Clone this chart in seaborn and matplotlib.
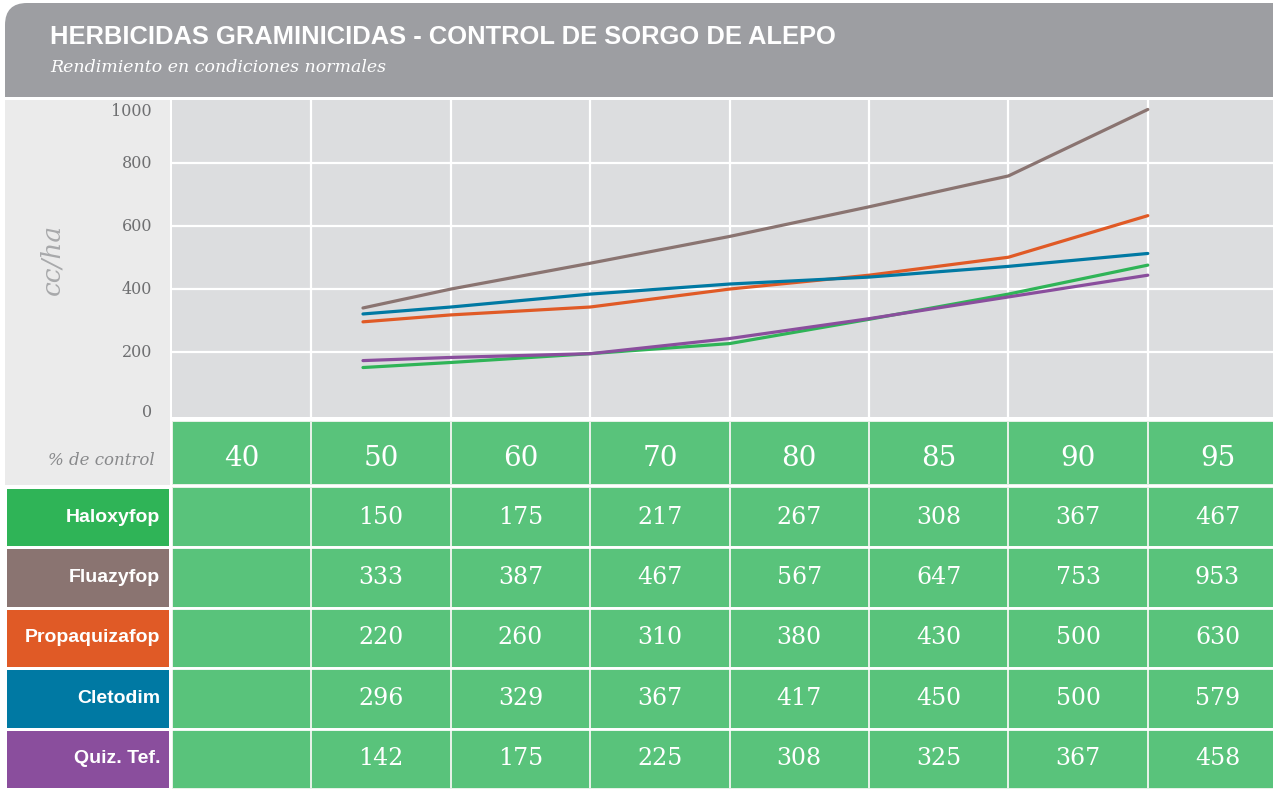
import numpy as np
import pandas as pd
import matplotlib.pyplot as plt
from matplotlib.colors import ListedColormap
from matplotlib.patches import FancyBboxPatch, Rectangle
import seaborn as sns

# %% data
titulo = "HERBICIDAS GRAMINICIDAS - CONTROL DE SORGO DE ALEPO"
subtitulo = "Rendimiento en condiciones normales"
control = ["40", "50", "60", "70", "80", "85", "90", "95"]
herbicidas = ["Haloxyfop", "Fluazyfop", "Propaquizafop", "Cletodim", "Quiz. Tef."]
colores = ["#2fb457", "#8a7471", "#e05a26", "#0079a3", "#8a4e9d"]

# table values (no value at 40 %)
haloxyfop = [np.nan, 150, 175, 217, 267, 308, 367, 467]
fluazyfop = [np.nan, 333, 387, 467, 567, 647, 753, 953]
propaquizafop = [np.nan, 220, 260, 310, 380, 430, 500, 630]
cletodim = [np.nan, 296, 329, 367, 417, 450, 500, 579]
quiztef = [np.nan, 142, 175, 225, 308, 325, 367, 458]

# curves as drawn, x in table-column units
curva_x = [1.37, 2, 3, 4, 5, 6, 7]
curva_haloxyfop = [151, 167, 195, 227, 304, 384, 476]
curva_fluazyfop = [340, 400, 482, 567, 661, 759, 970]
curva_propaquizafop = [296, 318, 343, 400, 444, 501, 633]
curva_cletodim = [321, 343, 384, 416, 438, 472, 513]
curva_quiztef = [173, 183, 195, 243, 306, 375, 444]

yticks = [0, 200, 400, 600, 800, 1000]

# %% colours / fonts
gris_header = "#9d9ea2"
gris_panel = "#ebebeb"
gris_plot = "#dcdddf"
verde = "#59c37b"
linea_tabla = "#e6f1e7"
serif = "DejaVu Serif"
sans = "Liberation Sans"

sns.set_style("white")
plt.rcParams['font.family'] = ['DejaVu Sans']

W, H = 1273, 789
fig = plt.figure(figsize=(W / 100, H / 100), dpi=100)
fig.patch.set_facecolor("white")


def axes_px(x0, y0, x1, y1, **kw):
    return fig.add_axes([x0 / W, 1 - y1 / H, (x1 - x0) / W, (y1 - y0) / H], **kw)


# %% background: left panel + labels
bg = axes_px(0, 0, W, H, zorder=0)
bg.set_xlim(0, W)
bg.set_ylim(H, 0)
bg.axis("off")
bg.add_patch(Rectangle((5, 100), 165, 385, color=gris_panel, lw=0))
bg.text(52, 259, "cc/ha", rotation=90, ha="center", va="center",
        family=serif, style="italic", fontsize=19, color="#a8a9ab")
bg.text(155, 460, "% de control", ha="right", va="center",
        family=serif, style="italic", fontsize=12, color="#88898b")

# %% header
hd = axes_px(0, 0, W, 97, zorder=1)
hd.set_xlim(0, W)
hd.set_ylim(97, 0)
hd.axis("off")
hd.add_patch(FancyBboxPatch((5, 3), 1400, 300, boxstyle="round,pad=0,rounding_size=22",
                            color=gris_header, lw=0))
hd.text(50, 37, titulo, ha="left", va="center", family=sans, weight="bold",
        fontsize=18.4, color="white")
hd.text(50, 68, subtitulo, ha="left", va="center", family=serif, style="italic",
        fontsize=12.5, color="white")

# %% line chart
ax = axes_px(172, 100, 172 + 8 * 139.4, 417, zorder=2)
ax.set_facecolor(gris_plot)
curvas = pd.DataFrame({
    "x": curva_x * len(herbicidas),
    "cc": curva_haloxyfop + curva_fluazyfop + curva_propaquizafop + curva_cletodim + curva_quiztef,
    "herbicida": np.repeat(herbicidas, len(curva_x)),
})
sns.lineplot(data=curvas, x="x", y="cc", hue="herbicida", hue_order=herbicidas,
             palette=colores, estimator=None, sort=False, lw=2.3, legend=False, ax=ax)
ax.set_xlim(0, 8)
ax.set_ylim(-6, 1000)
ax.set_xticks(range(1, 8))
ax.set_yticks(yticks[1:-1])
ax.grid(True, color="white", lw=1.6)
ax.set_xticklabels([])
ax.set_yticklabels([])
ax.tick_params(length=0)
ax.set_xlabel("")
ax.set_ylabel("")
for s in ax.spines.values():
    s.set_visible(False)
# y labels sit in the left panel; top one is pulled inside the panel
for v in yticks:
    dy = -12 if v == yticks[-1] else (3 if v == 0 else 0)
    ax.annotate(str(v), xy=(0, v), xycoords=ax.get_yaxis_transform(),
                xytext=(-20, dy), textcoords="offset pixels", ha="right", va="center",
                family=serif, fontsize=11.5, color="#6e6f71", annotation_clip=False)

# %% table: header row
th = axes_px(172, 421, 172 + 8 * 139.4, 485, zorder=2)
sns.heatmap(np.ones((1, 8)), cmap=ListedColormap([verde]), cbar=False,
            linewidths=1.4, linecolor=linea_tabla,
            xticklabels=False, yticklabels=False, ax=th)
for j, c in enumerate(control):
    th.text(j + 0.5, 0.58, c, ha="center", va="center", family=serif,
            fontsize=20, color="white")

# %% table: values
valores = np.array([haloxyfop, fluazyfop, propaquizafop, cletodim, quiztef])
textos = np.array([["" if np.isnan(v) else f"{v:.0f}" for v in fila] for fila in valores])
tb = axes_px(172, 487, 172 + 8 * 139.4, H, zorder=2)
tb.set_facecolor(verde)
sns.heatmap(np.where(np.isnan(valores), 0, 1), mask=np.isnan(valores),
            cmap=ListedColormap([verde]), vmin=0, vmax=1, cbar=False,
            annot=textos, fmt="", linewidths=1.4, linecolor=linea_tabla,
            annot_kws=dict(family=serif, fontsize=17, color="white"),
            xticklabels=False, yticklabels=False, ax=tb)
# white bands between the rows
for i in range(1, len(herbicidas)):
    tb.axhline(i, color="white", lw=2)

# %% row labels
rl = axes_px(5, 487, 170, H, zorder=2)
sns.heatmap(np.arange(len(herbicidas))[:, None], cmap=ListedColormap(colores),
            vmin=-0.5, vmax=len(herbicidas) - 0.5, cbar=False, linewidths=2,
            linecolor="white", xticklabels=False, yticklabels=False, ax=rl)
for i, nombre in enumerate(herbicidas):
    rl.text(0.94, i + 0.5, nombre, ha="right", va="center", family=sans,
            weight="bold", fontsize=14, color="white")

fig.savefig("out.png", dpi=100)
